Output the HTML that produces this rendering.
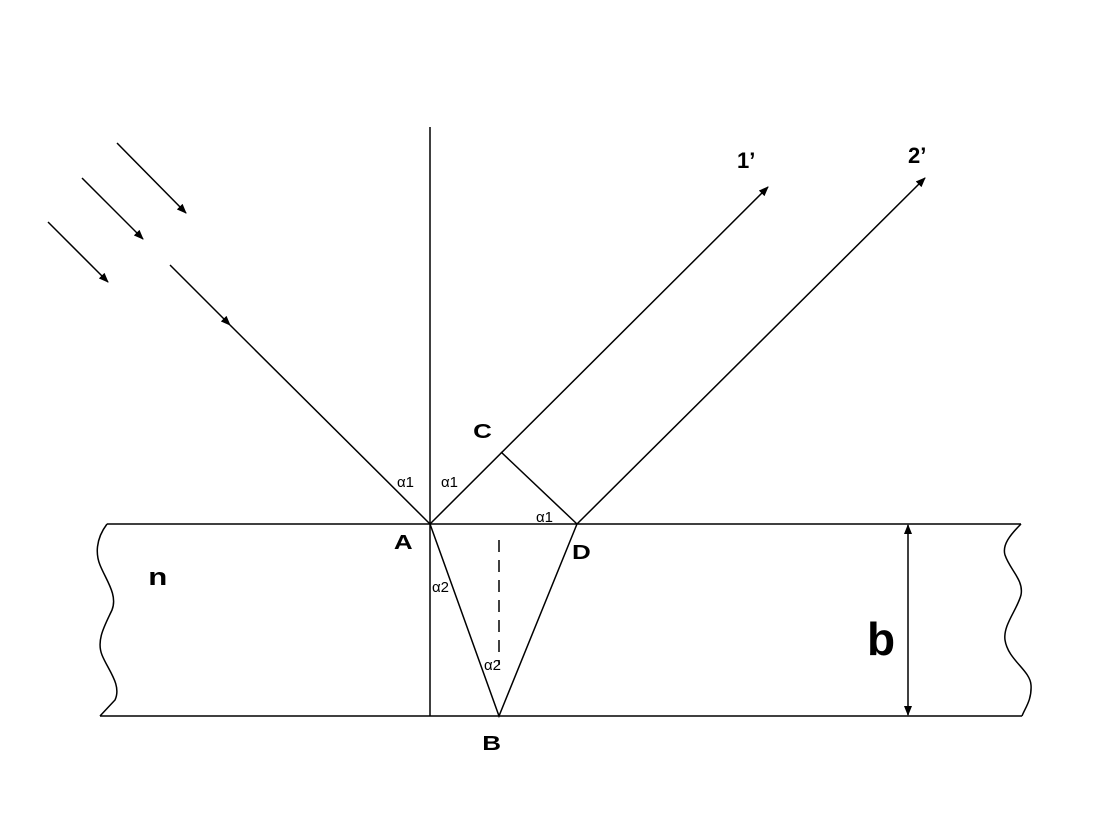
<!DOCTYPE html>
<html><head><meta charset="utf-8"><style>
html,body{margin:0;padding:0;background:#fff;}
svg{display:block;}
text{font-family:"Liberation Sans",sans-serif;fill:#000;}
</style></head><body>
<svg width="1103" height="825" viewBox="0 0 1103 825" xmlns="http://www.w3.org/2000/svg">
<defs>
<marker id="ah" markerWidth="10" markerHeight="8" refX="9" refY="4" orient="auto-start-reverse" markerUnits="userSpaceOnUse">
<path d="M0,0 L10,4 L0,8 z" fill="#000"/>
</marker>
</defs>
<g stroke="#000" stroke-width="1.5" fill="none">
<line x1="430" y1="127" x2="430" y2="716"/>
<line x1="107" y1="524" x2="1021" y2="524"/>
<line x1="100" y1="716" x2="1022" y2="716"/>
<path d="M107,524 C95,540 96,555 100,565 C106,580 118,595 112,610 C105,625 96,640 102,655 C108,670 122,685 115,700 L100,716"/>
<path d="M1021,524 C1010,535 1002,545 1005,555 C1010,570 1024,580 1021,595 C1017,610 1003,625 1005,640 C1008,660 1030,670 1031,685 C1032,700 1025,708 1022,716"/>
<line x1="117" y1="143" x2="186" y2="213" marker-end="url(#ah)"/>
<line x1="82" y1="178" x2="143" y2="239" marker-end="url(#ah)"/>
<line x1="48" y1="222" x2="108" y2="282" marker-end="url(#ah)"/>
<line x1="170" y1="265" x2="230" y2="325" marker-end="url(#ah)"/>
<line x1="230" y1="325" x2="430" y2="524"/>
<line x1="430" y1="524" x2="768" y2="187" marker-end="url(#ah)"/>
<line x1="577" y1="524" x2="925" y2="178" marker-end="url(#ah)"/>
<line x1="501" y1="452" x2="577" y2="524"/>
<polyline points="430,524 499,716 577,524"/>
<line x1="499" y1="540" x2="499" y2="665" stroke-dasharray="12,8"/>
<line x1="908" y1="525" x2="908" y2="715" marker-start="url(#ah)" marker-end="url(#ah)"/>
</g>
<g font-weight="bold">
<text x="737" y="168" font-size="22">1’</text>
<text x="908" y="163" font-size="22">2’</text>
<text x="474" y="438" font-size="20" transform="scale(1.3,1) translate(-110,0)">C</text>
<text x="397" y="549" font-size="20" transform="scale(1.3,1) translate(-94,0)">A</text>
<text x="575" y="559" font-size="20" transform="scale(1.3,1) translate(-135,0)">D</text>
<text x="484" y="750" font-size="20" transform="scale(1.3,1) translate(-113,0)">B</text>
<text x="150" y="585" font-size="24" transform="scale(1.3,1) translate(-36,0)">n</text>
<text x="867" y="655" font-size="46">b</text>
</g>
<g font-size="15">
<text x="397" y="487">α1</text>
<text x="441" y="487">α1</text>
<text x="536" y="522">α1</text>
<text x="432" y="592">α2</text>
<text x="484" y="670">α2</text>
</g>
</svg>
</body></html>
